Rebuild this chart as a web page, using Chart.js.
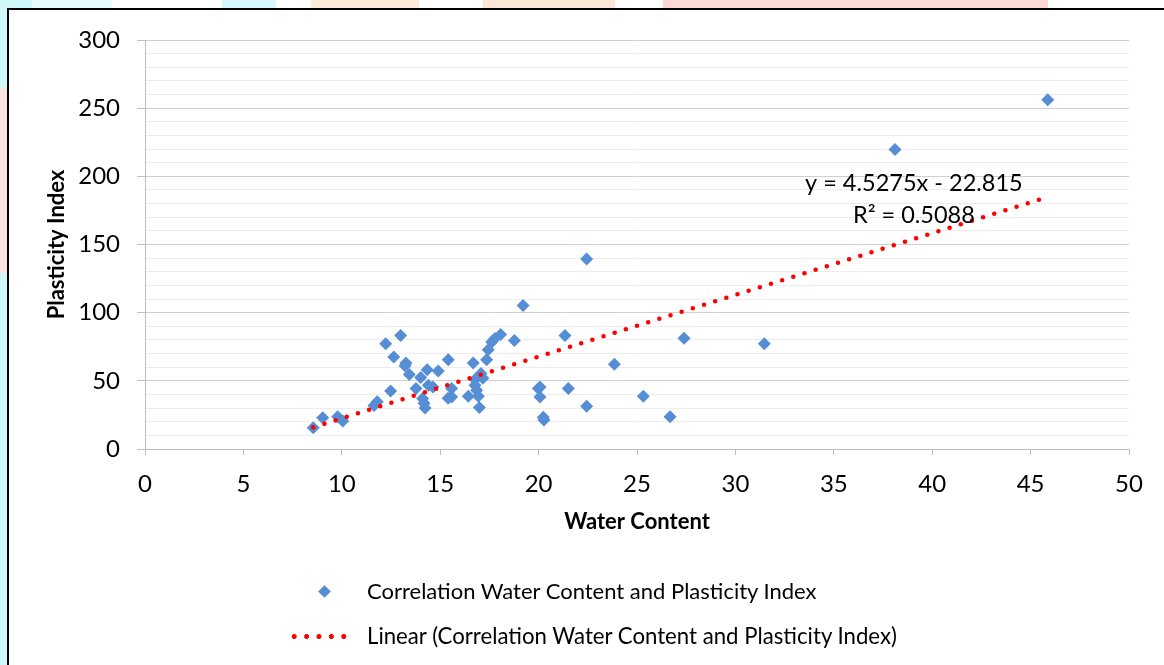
<!DOCTYPE html>
<html>
<head>
<meta charset="utf-8">
<script src="https://cdn.jsdelivr.net/npm/chart.js@4.4.1/dist/chart.umd.min.js"></script>
<style>
  html, body { margin: 0; padding: 0; width: 1164px; height: 665px; overflow: hidden; background: #fff; }
  body { position: relative; font-family: Lato, "Open Sans", sans-serif; }
  .wm { position: absolute; }
  #frame { position: absolute; left: 7px; top: 8px; width: 1200px; height: 700px; border: 2px solid #000; background: #fff; }
  #chart { position: absolute; left: 0; top: 0; }
  .legend-row { position: absolute; left: 367px; font-size: 22px; line-height: 26px; color: #000; white-space: nowrap; }
  .diamond { position: absolute; width: 9px; height: 9px; background: #558ED5; transform: rotate(45deg); }
  .dots { position: absolute; height: 5px; width: 62px;
    background-image: radial-gradient(circle, #FF0000 2.3px, transparent 2.6px);
    background-size: 12.4px 5px; background-repeat: repeat-x; }
</style>
</head>
<body>
<!-- faint watermark behind the frame -->
<div class="wm" style="left:0;top:0;width:7px;height:665px;background:#CFF8FB"></div>
<div class="wm" style="left:0;top:0;width:32px;height:8px;background:#CFF8FB"></div>
<div class="wm" style="left:32px;top:0;width:80px;height:8px;background:#E6FCFD"></div>
<div class="wm" style="left:222px;top:0;width:54px;height:8px;background:#D6F7FB"></div>
<div class="wm" style="left:311px;top:0;width:108px;height:8px;background:#FDEBD9"></div>
<div class="wm" style="left:483px;top:0;width:132px;height:8px;background:#FDE6D6"></div>
<div class="wm" style="left:663px;top:0;width:385px;height:8px;background:#FDD9D4"></div>
<div class="wm" style="left:0;top:88px;width:7px;height:185px;background:#FDE3E3"></div>
<div id="frame"></div>
<canvas id="chart" width="1164" height="665"></canvas>

<div class="diamond" style="left:320px;top:587px"></div>
<div class="legend-row" style="top:578px">Correlation Water Content and Plasticity Index</div>
<div class="dots" style="left:288px;top:634px"></div>
<div class="legend-row" style="top:623px;font-size:22.2px">Linear (Correlation Water Content and Plasticity Index)</div>

<script>
// water content (%) vs plasticity index
const waterContent = [
    8.55, 9.03, 9.79, 10.05, 11.64, 11.80, 12.23, 12.48, 12.64, 12.99,
    13.26, 13.21, 13.43, 13.77, 14.01, 14.11, 14.18, 14.23, 14.34, 14.40,
    14.63, 14.90, 15.41, 15.58, 15.58, 15.40, 16.43, 16.68, 16.77, 16.77,
    16.85, 16.94, 16.99, 17.07, 17.17, 17.36, 17.44, 17.62, 17.78, 18.07,
    18.77, 19.21, 19.99, 20.07, 20.07, 20.27, 20.24, 21.34, 21.51, 22.44,
    22.44, 23.85, 25.32, 26.68, 27.39, 31.47, 38.11, 45.87
];
const plasticityIndex = [
    15.6, 22.9, 23.6, 20.5, 31.9, 34.6, 77.2, 42.6, 67.4, 83.3,
    63.0, 61.0, 54.6, 44.3, 52.4, 37.0, 33.6, 30.0, 58.2, 46.7,
    45.5, 57.2, 65.5, 44.3, 38.2, 37.3, 38.7, 63.0, 50.9, 46.7,
    43.1, 38.7, 30.5, 55.3, 51.9, 65.5, 72.8, 78.4, 81.1, 84.0,
    79.6, 105.2, 44.3, 45.5, 38.2, 21.2, 23.2, 83.3, 44.3, 139.3,
    31.4, 62.1, 38.7, 23.6, 81.3, 77.2, 219.6, 256.2
];

// excel linear trendline as printed on the chart
const trendSlope = 4.5275;
const trendIntercept = -22.815;
const trendLabels = ['y = 4.5275x - 22.815', 'R\u00B2 = 0.5088'];
const trendLabelAt = { x: 39.07, y: [194.5, 171.6] };

const seriesName = 'Correlation Water Content and Plasticity Index';

const points = waterContent.map((x, i) => ({ x: x, y: plasticityIndex[i] }));
const xMin = Math.min(...waterContent);
const xMax = Math.max(...waterContent);
const trendPoints = [
    { x: xMin, y: trendSlope * xMin + trendIntercept },
    { x: xMax, y: trendSlope * xMax + trendIntercept }
];

const equationLabel = {
    id: 'equationLabel',
    afterDatasetsDraw(chart) {
        const ctx = chart.ctx;
        const xs = chart.scales.x, ys = chart.scales.y;
        ctx.save();
        ctx.font = '23.5px Lato, "Open Sans", sans-serif';
        ctx.fillStyle = '#000';
        ctx.textAlign = 'center';
        ctx.textBaseline = 'middle';
        trendLabels.forEach((t, i) => {
            ctx.fillText(t, xs.getPixelForValue(trendLabelAt.x), ys.getPixelForValue(trendLabelAt.y[i]));
        });
        ctx.restore();
    }
};

const tickFont = { family: 'Lato, "Open Sans", sans-serif', size: 24 };
const titleFont = { family: 'Lato, "Open Sans", sans-serif', size: 22, weight: 'bold' };

new Chart(document.getElementById('chart'), {
    type: 'scatter',
    data: {
        datasets: [{
            label: seriesName,
            data: points,
            order: 1,
            pointStyle: 'rectRot',
            pointRadius: 6.5,
            pointBackgroundColor: '#558ED5',
            pointBorderColor: '#558ED5',
            pointBorderWidth: 0
        }, {
            label: 'Linear (' + seriesName + ')',
            data: trendPoints,
            order: 0,
            showLine: true,
            pointRadius: 0,
            borderColor: '#FF0000',
            borderWidth: 4.6,
            borderDash: [0, 11.7],
            borderCapStyle: 'round'
        }]
    },
    options: {
        responsive: false,
        animation: false,
        layout: { padding: { left: 0, top: 40, right: 35, bottom: 130 } },
        plugins: {
            legend: { display: false },
            tooltip: { enabled: false }
        },
        scales: {
            x: {
                type: 'linear',
                min: 0,
                max: 50,
                afterFit: s => { s.height = 86; },
                ticks: { stepSize: 5, font: tickFont, color: '#000', padding: 15, maxRotation: 0 },
                grid: { drawOnChartArea: false, tickLength: 6, color: '#BFBFBF' },
                border: { color: '#BFBFBF' },
                title: { display: true, text: 'Water Content', font: titleFont, color: '#000', padding: { top: 0, bottom: 0 } }
            },
            y: {
                min: 0,
                max: 300,
                afterFit: s => { s.width = 145; },
                ticks: {
                    stepSize: 10,
                    autoSkip: false,
                    font: tickFont,
                    color: '#000',
                    padding: 17,
                    callback: v => (v % 50 === 0 ? v : '')
                },
                grid: {
                    tickLength: 8,
                    color: c => (c.tick && c.tick.value % 50 === 0 ? '#D0D0D0' : '#EDEDED'),
                    tickColor: c => (c.tick && c.tick.value % 50 === 0 ? '#BFBFBF' : 'rgba(0,0,0,0)')
                },
                border: { color: '#BFBFBF' },
                title: { display: true, text: 'Plasticity Index', font: titleFont, color: '#000', padding: { top: 44, bottom: 0 } }
            }
        }
    },
    plugins: [equationLabel]
});
</script>
</body>
</html>
